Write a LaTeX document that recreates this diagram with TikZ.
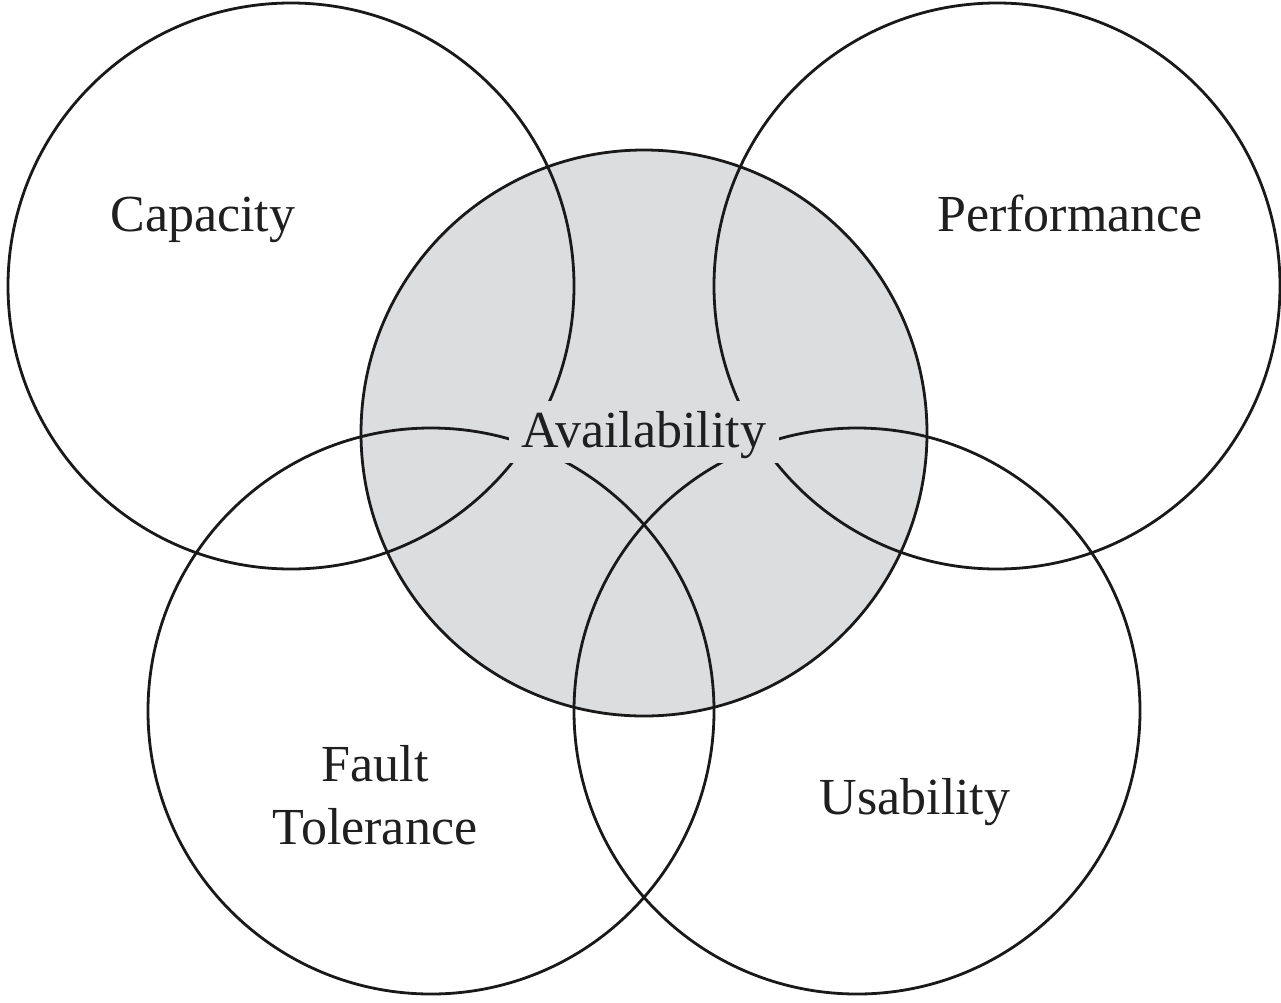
\documentclass[tikz,border=0pt]{standalone}
\usepackage{fontspec}
\setmainfont{Liberation Serif}
\definecolor{availgray}{HTML}{DCDDDF}
\begin{document}
\begin{tikzpicture}[x=1pt,y=-1pt,
  ring/.style={circle,draw=black!90,line width=2.8pt,minimum size=566pt,inner sep=0pt},
  lbl/.style={anchor=base,inner sep=0pt,font=\fontsize{52}{60}\selectfont,text=black!88}]
  \useasboundingbox (0,0) rectangle (1281,1002);
  % shaded centre circle
  \node[ring,fill=availgray] (avail) at (644,433) {};
  % surrounding circles
  \node[ring] (cap)  at (291,286) {};
  \node[ring] (perf) at (997,286) {};
  \node[ring] (fault) at (431,711) {};
  \node[ring] (usab) at (857,711) {};
  % labels
  \node[lbl,fill=availgray,inner xsep=13pt,inner ysep=0pt,
        text depth=16pt,text height=46pt] (tavail) at (644,447) {Availability};
  \node[lbl] (tcap)  at (203,231) {Capacity};
  \node[lbl] (tperf) at (1070,231) {Performance};
  \node[lbl] (tfault) at (375,781) {Fault};
  \node[lbl] (ttol)  at (375,844) {Tolerance};
  \node[lbl] (tusab) at (915,814) {Usability};
\end{tikzpicture}
\end{document}
